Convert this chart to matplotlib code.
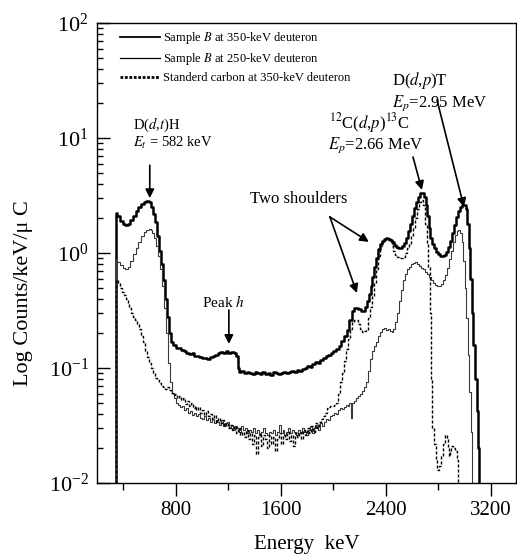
import matplotlib
matplotlib.use("Agg")
import matplotlib.pyplot as plt
from matplotlib.ticker import FixedLocator, LogLocator, NullFormatter

plt.rcParams['font.family'] = ['Liberation Serif', 'DejaVu Serif']
plt.rcParams['mathtext.fontset'] = 'stix'

# ---- data: Sample B at 350-keV deuteron (thick) ----
e_b350 = [338, 345, 365, 385, 405, 425, 445, 465, 485, 505, 525, 545, 565, 585, 605, 620, 635, 650, 665, 680,
          695, 710, 725, 740, 755, 770, 790, 810, 830, 850, 870, 890, 910, 930, 950, 970, 990, 1010, 1030, 1050,
          1070, 1090, 1110, 1130, 1150, 1170, 1190, 1210, 1230, 1250, 1265, 1275, 1290, 1310, 1330, 1350, 1370,
          1390, 1410, 1430, 1450, 1470, 1490, 1510, 1530, 1550, 1570, 1590, 1610, 1630, 1650, 1670, 1690, 1710,
          1730, 1750, 1770, 1790, 1810, 1830, 1850, 1870, 1890, 1910, 1930, 1950, 1970, 1990, 2010, 2030, 2050,
          2070, 2090, 2110, 2130, 2150, 2165, 2180, 2200, 2215, 2230, 2245, 2260, 2275, 2290, 2305, 2320, 2335,
          2350, 2365, 2380, 2395, 2410, 2425, 2440, 2455, 2470, 2485, 2500, 2515, 2530, 2545, 2560, 2575, 2590,
          2605, 2620, 2635, 2650, 2665, 2680, 2695, 2710, 2720, 2730, 2745, 2760, 2775, 2790, 2805, 2820, 2835,
          2850, 2865, 2880, 2895, 2910, 2925, 2940, 2955, 2970, 2985, 3000, 3012, 3024, 3036, 3048, 3060, 3072,
          3084, 3096, 3106, 3116]
v_b350 = [0.009, 2.25, 2.1, 1.9, 1.78, 1.74, 1.8, 1.95, 2.1, 2.3, 2.5, 2.65, 2.78, 2.83, 2.75, 2.5, 2.2, 1.85, 1.4, 1.05,
          0.8, 0.58, 0.4, 0.28, 0.2, 0.17, 0.16, 0.15, 0.148, 0.142, 0.14, 0.136, 0.133, 0.134, 0.128, 0.127, 0.124, 0.121, 0.123, 0.119,
          0.125, 0.128, 0.131, 0.135, 0.138, 0.134, 0.14, 0.136, 0.139, 0.135, 0.128, 0.1, 0.092, 0.094, 0.09, 0.093, 0.091,
          0.089, 0.093, 0.09, 0.088, 0.092, 0.089, 0.091, 0.087, 0.092, 0.09, 0.088, 0.091, 0.093, 0.09, 0.092, 0.095, 0.093,
          0.097, 0.095, 0.099, 0.1, 0.104, 0.103, 0.108, 0.112, 0.11, 0.118, 0.122, 0.127, 0.131, 0.136, 0.14, 0.146, 0.155,
          0.172, 0.19, 0.215, 0.26, 0.31, 0.33, 0.335, 0.325, 0.31, 0.315, 0.34, 0.38, 0.44, 0.52, 0.62, 0.75, 0.9,
          1.08, 1.2, 1.28, 1.32, 1.34, 1.33, 1.3, 1.25, 1.18, 1.12, 1.1, 1.1, 1.14, 1.22, 1.36, 1.55, 1.8,
          2.1, 2.45, 2.8, 3.1, 3.3, 3.35, 3.1, 2.6, 2.1, 1.65, 1.35, 1.2, 1.1, 1.03, 0.98, 0.95, 0.94,
          0.96, 1.02, 1.12, 1.28, 1.5, 1.75, 2.05, 2.3, 2.5, 2.6, 2.62, 2.4, 1.8, 1.1, 0.6, 0.3, 0.16,
          0.08, 0.042, 0.02, 0.009]

# ---- data: Sample B at 250-keV deuteron (thin) ----
e_b250 = [340, 345, 365, 385, 405, 425, 445, 465, 485, 505, 525, 545, 565, 585, 600, 615, 630, 645, 660, 675,
          690, 705, 720, 735, 750, 765, 780, 795, 810, 825, 840, 855, 870, 885, 900, 915, 930, 945, 960, 975,
          990, 1005, 1020, 1035, 1050, 1065, 1080, 1095, 1110, 1125, 1140, 1155, 1170, 1185, 1200, 1215, 1230,
          1245, 1260, 1275, 1290, 1305, 1320, 1335, 1350, 1365, 1380, 1395, 1410, 1425, 1440, 1455, 1470, 1485,
          1500, 1515, 1530, 1545, 1560, 1575, 1590, 1605, 1620, 1635, 1650, 1665, 1680, 1695, 1710, 1725, 1740,
          1755, 1770, 1785, 1800, 1815, 1830, 1845, 1860, 1875, 1890, 1905, 1920, 1935, 1950, 1965, 1980, 1995,
          2010, 2025, 2040, 2055, 2070, 2085, 2100, 2115, 2130, 2140, 2150, 2165, 2180, 2195, 2210, 2225, 2240,
          2255, 2270, 2285, 2300, 2315, 2330, 2345, 2360, 2375, 2390, 2405, 2420, 2435, 2450, 2465, 2480, 2495,
          2510, 2525, 2540, 2555, 2570, 2585, 2600, 2615, 2630, 2645, 2660, 2675, 2690, 2705, 2720, 2735, 2750,
          2765, 2780, 2795, 2810, 2825, 2840, 2855, 2870, 2885, 2900, 2915, 2930, 2945, 2958, 2970, 2982, 2994,
          3006, 3018, 3030, 3042, 3054, 3064]
v_b250 = [0.009, 0.88, 0.84, 0.78, 0.74, 0.72, 0.76, 0.85, 0.98, 1.1, 1.25, 1.4, 1.52, 1.6, 1.63, 1.58, 1.48, 1.35, 1.15, 0.95,
          0.72, 0.52, 0.33, 0.2, 0.11, 0.075, 0.061, 0.055, 0.05, 0.048, 0.046, 0.047, 0.043, 0.045, 0.041, 0.042, 0.039, 0.041, 0.038, 0.04,
          0.037, 0.036, 0.038, 0.035, 0.037, 0.034, 0.036, 0.033, 0.035, 0.034, 0.032, 0.035, 0.031, 0.033, 0.034, 0.03, 0.032,
          0.029, 0.031, 0.03, 0.028, 0.031, 0.029, 0.03, 0.027, 0.029, 0.028, 0.03, 0.027, 0.029, 0.026, 0.028, 0.03, 0.027,
          0.026, 0.028, 0.027, 0.029, 0.026, 0.028, 0.032, 0.027, 0.029, 0.026, 0.028, 0.03, 0.027, 0.029, 0.028, 0.026, 0.029,
          0.027, 0.03, 0.028, 0.026, 0.029, 0.031, 0.027, 0.03, 0.032, 0.029, 0.033, 0.031, 0.034, 0.036, 0.035, 0.038, 0.039,
          0.041, 0.04, 0.043, 0.045, 0.044, 0.046, 0.048, 0.047, 0.05, 0.037, 0.05, 0.052, 0.055, 0.057, 0.06, 0.063, 0.068,
          0.076, 0.095, 0.12, 0.14, 0.155, 0.17, 0.19, 0.205, 0.22, 0.225, 0.215, 0.22, 0.21, 0.205, 0.22, 0.25, 0.3,
          0.38, 0.48, 0.58, 0.66, 0.72, 0.76, 0.8, 0.82, 0.83, 0.8, 0.77, 0.74, 0.72, 0.69, 0.66, 0.62, 0.58,
          0.55, 0.53, 0.52, 0.52, 0.54, 0.58, 0.64, 0.74, 0.88, 1.05, 1.25, 1.42, 1.55, 1.6, 1.5, 1.25, 0.85,
          0.5, 0.27, 0.13, 0.062, 0.028, 0.009]

# ---- data: Standard carbon at 350-keV deuteron (dotted) ----
e_c350 = [345, 350, 365, 380, 395, 410, 425, 440, 455, 470, 485, 500, 515, 530, 545, 560, 575, 590, 605, 620,
          635, 650, 665, 680, 695, 710, 725, 740, 755, 770, 785, 800, 815, 830, 845, 860, 875, 890, 905, 920,
          935, 950, 965, 980, 995, 1010, 1025, 1040, 1055, 1070, 1085, 1100, 1115, 1130, 1145, 1160, 1175, 1190,
          1205, 1220, 1235, 1250, 1265, 1280, 1295, 1310, 1325, 1340, 1355, 1370, 1385, 1400, 1415, 1430, 1445,
          1460, 1475, 1490, 1505, 1520, 1535, 1550, 1565, 1580, 1595, 1610, 1625, 1640, 1655, 1670, 1685, 1700,
          1715, 1730, 1745, 1760, 1775, 1790, 1805, 1820, 1835, 1850, 1865, 1880, 1895, 1910, 1925, 1940, 1955,
          1970, 1985, 2000, 2015, 2030, 2045, 2060, 2075, 2090, 2105, 2120, 2135, 2150, 2165, 2180, 2195, 2210,
          2225, 2240, 2255, 2270, 2285, 2300, 2315, 2330, 2345, 2360, 2375, 2390, 2405, 2420, 2435, 2450, 2465,
          2480, 2495, 2510, 2525, 2540, 2555, 2570, 2585, 2600, 2615, 2630, 2645, 2660, 2675, 2690, 2705, 2718,
          2730, 2740, 2748, 2758, 2770, 2785, 2800, 2815, 2830, 2845, 2858, 2866, 2874, 2882, 2892, 2902, 2915,
          2930, 2945, 2955]
v_c350 = [0.009, 0.58, 0.55, 0.5, 0.46, 0.43, 0.4, 0.37, 0.33, 0.3, 0.28, 0.26, 0.24, 0.22, 0.19, 0.17, 0.14, 0.125, 0.11, 0.1,
          0.09, 0.082, 0.078, 0.074, 0.07, 0.068, 0.066, 0.068, 0.064, 0.061, 0.058, 0.06, 0.055, 0.057, 0.053, 0.055, 0.049, 0.052, 0.047, 0.05,
          0.045, 0.047, 0.043, 0.046, 0.041, 0.043, 0.039, 0.042, 0.038, 0.04, 0.036, 0.039, 0.034, 0.037, 0.033, 0.035, 0.031, 0.033,
          0.03, 0.032, 0.029, 0.031, 0.027, 0.03, 0.026, 0.028, 0.025, 0.029, 0.024, 0.027, 0.022, 0.026, 0.018, 0.025, 0.027,
          0.021, 0.026, 0.024, 0.02, 0.026, 0.022, 0.025, 0.019, 0.024, 0.027, 0.022, 0.026, 0.024, 0.028, 0.023, 0.026, 0.021,
          0.027, 0.025, 0.028, 0.024, 0.029, 0.026, 0.03, 0.027, 0.031, 0.028, 0.033, 0.03, 0.034, 0.036, 0.038, 0.041, 0.045,
          0.046, 0.047, 0.047, 0.048, 0.05, 0.06, 0.075, 0.09, 0.115, 0.145, 0.18, 0.22, 0.25, 0.26, 0.26, 0.24, 0.22,
          0.205, 0.21, 0.215, 0.27, 0.34, 0.42, 0.55, 0.72, 0.95, 1.15, 1.25, 1.3, 1.31, 1.3, 1.25, 1.15, 1.05,
          0.97, 0.92, 0.9, 0.9, 0.93, 1.0, 1.1, 1.2, 1.4, 1.65, 2.0, 2.4, 2.75, 2.9, 2.6, 1.8, 1.2,
          0.75, 0.3, 0.08, 0.03, 0.022, 0.016, 0.013, 0.014, 0.017, 0.022, 0.026, 0.024, 0.02, 0.017, 0.019, 0.021, 0.02,
          0.019, 0.016, 0.009]

labels = ["Sample $B$ at 350-keV deuteron",
          "Sample $B$ at 250-keV deuteron",
          "Standerd carbon at 350-keV deuteron"]
x_major = [800, 1600, 2400, 3200]
x_minor = [400, 1200, 2000, 2800]

fig = plt.figure(figsize=(5.17, 5.56), dpi=100)
ax = fig.add_axes([0.1876, 0.1313, 0.8104, 0.8273])

ax.plot(e_b350, v_b350, color='black', lw=1.8, drawstyle='steps-mid')
ax.plot(e_b250, v_b250, color='#3a3a3a', lw=0.8, drawstyle='steps-mid')
ax.plot(e_c350, v_c350, color='black', lw=1.0, ls=(0, (2.2, 1.4)), drawstyle='steps-mid')

ax.set_yscale('log')
ax.set_xlim(200, 3390)
ax.set_ylim(1e-2, 1e2)
ax.xaxis.set_major_locator(FixedLocator(x_major))
ax.xaxis.set_minor_locator(FixedLocator(x_minor))
ax.yaxis.set_minor_locator(LogLocator(base=10, subs=range(2, 10), numticks=20))
ax.yaxis.set_minor_formatter(NullFormatter())
ax.tick_params(axis='x', which='major', direction='out', length=9, width=1, labelsize=15, pad=4, top=False)
ax.tick_params(axis='x', which='minor', direction='out', length=5, width=1, top=False)
ax.tick_params(axis='y', which='major', direction='in', length=9, width=1, labelsize=16, pad=6, right=False)
ax.tick_params(axis='y', which='minor', direction='in', length=4, width=1, right=False)
for s in ax.spines.values():
    s.set_linewidth(1.0)

ax.set_xlabel("Energy  keV", fontsize=15)
ax.set_ylabel("Log Counts/keV/μ C", fontsize=16)
ax.yaxis.set_label_coords(-0.152, 0.413)
ax.xaxis.set_label_coords(0.5, -0.113)

leg_h1 = plt.Line2D([], [], color='black', lw=1.3)
leg_h2 = plt.Line2D([], [], color='black', lw=0.9)
leg_h3 = plt.Line2D([], [], color='black', lw=2.0, ls=(0, (1, 0.6)))
ax.legend([leg_h1, leg_h2, leg_h3], labels, loc='upper left', bbox_to_anchor=(0.055, 0.985),
          frameon=False, fontsize=9, handlelength=3.2, handletextpad=0.2, labelspacing=0.4,
          borderpad=0, borderaxespad=0)

arrow = dict(arrowstyle='-|>', color='black', lw=1.2, mutation_scale=13, shrinkA=0, shrinkB=0)

ax.text(472, 13.0, "D($d$,$t$)H", fontsize=10.5, ha='left', va='center')
ax.text(472, 9.06, "$E_t$ = 582 keV", fontsize=10.5, ha='left', va='center')
ax.annotate("", xy=(602, 3.0), xytext=(602, 5.8), arrowprops=arrow)

ax.text(2446, 31.9, "D($d$,$p$)T", fontsize=12, ha='left', va='center')
ax.text(2446, 20.1, "$E_p$=2.95 MeV", fontsize=12, ha='left', va='center')
ax.annotate("", xy=(2994, 2.51), xytext=(2789, 21.4), arrowprops=arrow)

ax.text(1966, 13.5, "$^{12}$C($d$,$p$)$^{13}$C", fontsize=12, ha='left', va='center')
ax.text(1958, 8.7, "$E_p$=2.66 MeV", fontsize=12, ha='left', va='center')
ax.annotate("", xy=(2674, 3.53), xytext=(2606, 6.84), arrowprops=arrow)

ax.text(1364, 2.95, "Two shoulders", fontsize=12, ha='left', va='center')
ax.annotate("", xy=(2270, 1.25), xytext=(1973, 2.06), arrowprops=arrow)
ax.annotate("", xy=(2179, 0.449), xytext=(1973, 2.06), arrowprops=arrow)

ax.text(998, 0.375, "Peak $h$", fontsize=11, ha='left', va='center')
ax.annotate("", xy=(1204, 0.162), xytext=(1204, 0.319), arrowprops=arrow)

fig.savefig("out.png", dpi=100)
